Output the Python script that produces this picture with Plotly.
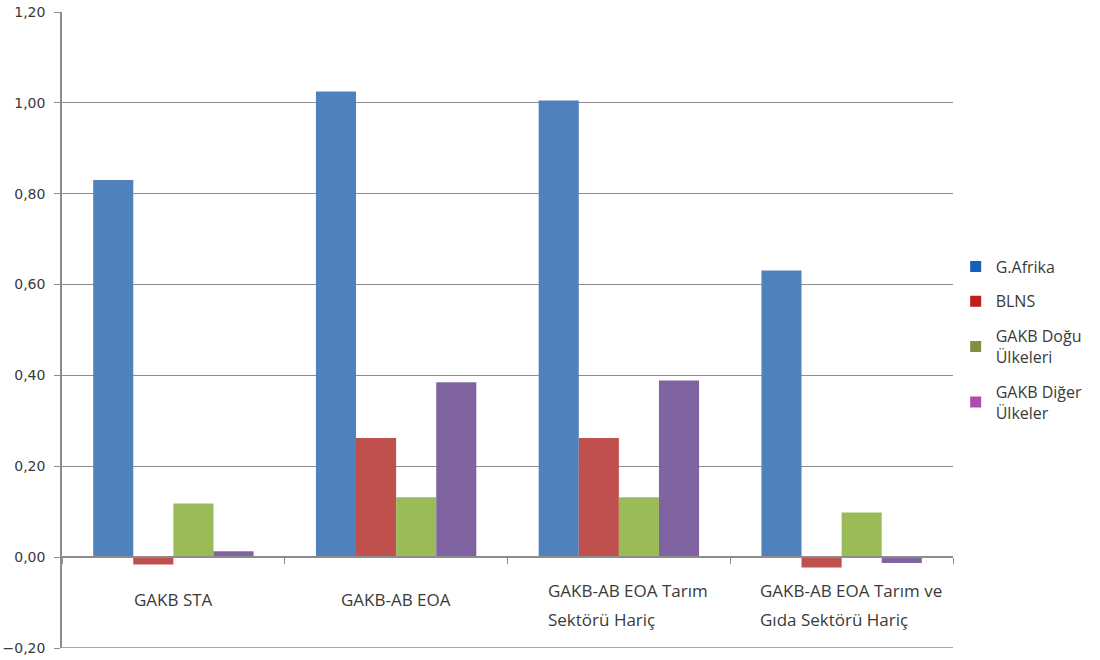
import plotly.graph_objects as go

categories = ["GAKB STA", "GAKB-AB EOA", "GAKB-AB EOA Tarım<br>Sektörü Hariç", "GAKB-AB EOA Tarım ve<br>Gıda Sektörü Hariç"]
series_names = ["G.Afrika", "BLNS", "GAKB Doğu<br>Ülkeleri", "GAKB Diğer<br>Ülkeler"]
g_afrika = [0.830, 1.025, 1.005, 0.631]
blns = [-0.016, 0.262, 0.262, -0.023]
gakb_dogu = [0.118, 0.132, 0.132, 0.098]
gakb_diger = [0.013, 0.385, 0.389, -0.013]
y_ticks = [-0.2, 0.0, 0.2, 0.4, 0.6, 0.8, 1.0, 1.2]

bar_colors = ["#4F81BD", "#C0504D", "#9BBB59", "#8064A2"]
legend_colors = ["#1560BD", "#C0201A", "#7F9040", "#B04AB0"]
values = [g_afrika, blns, gakb_dogu, gakb_diger]
text_col = "#3A3A3A"
grid_col = "#8C8C8C"

fig = go.Figure()
for name, vals, col in zip(series_names, values, bar_colors):
    fig.add_trace(go.Bar(x=categories, y=vals, marker=dict(color=col, line=dict(width=0)),
                         showlegend=False, name=name))
for i, (name, col) in enumerate(zip(series_names, legend_colors)):
    fig.add_trace(go.Scatter(x=[None], y=[None], mode="markers", name=name,
                             legendgroup=f"g{i}",
                             marker=dict(symbol="square", size=11, color=col)))

# category labels (left aligned multi-line, like the source)
label_left_shift = {2: -73, 3: -84}
for i, cat in enumerate(categories):
    lines = cat.split("<br>")
    if len(lines) == 1:
        fig.add_annotation(x=cat, y=0, xref="x", yref="y", text=lines[0], showarrow=False,
                           xanchor="center", yanchor="middle", yshift=-42,
                           font=dict(family="Open Sans", size=17, color=text_col))
    else:
        for j, ln in enumerate(lines):
            fig.add_annotation(x=cat, y=0, xref="x", yref="y", text=ln, showarrow=False,
                               xanchor="left", yanchor="middle",
                               xshift=label_left_shift[i], yshift=-33 - 29 * j,
                               font=dict(family="Open Sans", size=17, color=text_col))

# bottom border line at the axis minimum
fig.add_shape(type="line", xref="paper", yref="y", x0=0, x1=1, y0=y_ticks[0], y1=y_ticks[0],
              line=dict(color=grid_col, width=1.5), layer="below")

fig.update_layout(
    width=1100, height=660,
    margin=dict(l=62, r=145, t=12, b=12),
    paper_bgcolor="white", plot_bgcolor="white",
    barmode="group", bargap=0.28, bargroupgap=0,
    separators=",.",
    font=dict(family="Open Sans", size=13, color=text_col),
    legend=dict(x=1.003, xanchor="left", y=0.485, yanchor="middle",
                font=dict(family="Open Sans", size=16, color=text_col),
                tracegroupgap=11, itemwidth=30, bgcolor="rgba(0,0,0,0)"),
    xaxis=dict(
        anchor="free", position=(0 - y_ticks[0]) / (y_ticks[-1] - y_ticks[0]),
        showline=True, linecolor=grid_col, linewidth=1.5,
        ticks="outside", ticklen=6, tickcolor=grid_col, tickson="boundaries",
        showticklabels=False, automargin=False,
        showgrid=False, zeroline=False,
    ),
    yaxis=dict(
        range=[y_ticks[0], y_ticks[-1]], tickvals=y_ticks, tickformat=".2f",
        showline=True, linecolor=grid_col, linewidth=1.5,
        ticks="outside", ticklen=6, tickcolor=grid_col,
        showgrid=True, gridcolor=grid_col, gridwidth=1.2,
        zeroline=False, automargin=False, ticklabeloverflow="allow",
        ticklabelstandoff=6,
        tickfont=dict(family="DejaVu Sans", size=14, color=text_col),
    ),
)

fig.write_html("out.html", config={"displayModeBar": False},
               post_script="document.body.style.margin='0';")
